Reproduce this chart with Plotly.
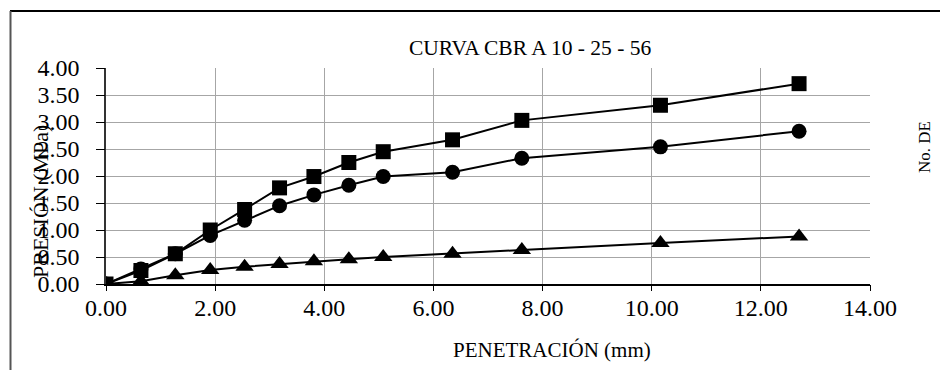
import plotly.graph_objects as go

penetracion = [0.00, 0.64, 1.27, 1.91, 2.54, 3.18, 3.81, 4.45, 5.08, 6.35, 7.62, 10.16, 12.70]
presion_56 = [0.00, 0.25, 0.56, 1.00, 1.38, 1.78, 1.99, 2.25, 2.45, 2.67, 3.03, 3.31, 3.71]
presion_25 = [0.00, 0.28, 0.56, 0.90, 1.18, 1.45, 1.65, 1.83, 1.99, 2.07, 2.33, 2.54, 2.83]
presion_10 = [0.00, 0.05, 0.16, 0.26, 0.32, 0.37, 0.42, 0.46, 0.50, 0.56, 0.63, 0.76, 0.88]

x_ticks = [0, 2, 4, 6, 8, 10, 12, 14]
y_ticks = [0, 0.5, 1, 1.5, 2, 2.5, 3, 3.5, 4]

W, H = 940, 370
L, R, T, B = 106, 70, 68, 86
PW, PH = W - L - R, H - T - B

def px(xp):
    return (xp - L) / PW

def py(yp):
    return (H - B - yp) / PH

FONT = "Liberation Serif, Times New Roman, serif"
PAD = "<span style='color:rgba(0,0,0,0)'>0</span>"

fig = go.Figure()
series = [(presion_56, "square", 15), (presion_25, "circle", 15), (presion_10, "triangle-up", 16)]
for vals, sym, sz in series:
    fig.add_trace(go.Scatter(
        x=penetracion, y=vals, mode="lines+markers",
        line=dict(color="black", width=2),
        marker=dict(symbol=sym, size=sz, color="black"),
        showlegend=False,
    ))
# invisible helper trace so the overlay axes (visible tick marks) are drawn
fig.add_trace(go.Scatter(x=[penetracion[0]], y=[presion_10[0]], xaxis="x2", yaxis="y2",
                         mode="markers", marker=dict(opacity=0), hoverinfo="skip", showlegend=False))

tick_common = dict(showgrid=False, zeroline=False, showline=False, showticklabels=False,
                   ticks="outside", tickcolor="black", tickwidth=1)

fig.update_layout(
    xaxis=dict(
        range=[0, 14], tickvals=x_ticks, ticktext=[f"{v:.2f}" for v in x_ticks],
        showgrid=True, gridcolor="#a6a6a6", gridwidth=1,
        showline=True, linecolor="black", linewidth=1.5,
        ticks="outside", ticklen=1, tickcolor="rgba(0,0,0,0)",
        tickfont=dict(family=FONT, size=24, color="black"),
        zeroline=False,
    ),
    yaxis=dict(
        range=[0, 4], tickvals=y_ticks, ticktext=[f"{v:.2f}{PAD}" for v in y_ticks],
        showgrid=True, gridcolor="#a6a6a6", gridwidth=1,
        showline=True, linecolor="#333333", linewidth=1.5,
        ticks="outside", ticklen=8, tickcolor="black",
        tickfont=dict(family=FONT, size=24, color="black"),
        zeroline=False,
    ),
    xaxis2=dict(range=[0, 14], tickvals=x_ticks, overlaying="x", anchor="y2", side="bottom",
                ticklen=6, **tick_common),
    yaxis2=dict(range=[0, 4], tickvals=y_ticks, overlaying="y", anchor="x2", side="left",
                ticklen=8, **tick_common),
)

annotations = [
    dict(text="CURVA CBR A 10 - 25 - 56", x=px(530), y=py(48), xref="paper", yref="paper",
         showarrow=False, font=dict(family=FONT, size=21.5, color="black"), xanchor="center", yanchor="middle"),
    dict(text="PENETRACIÓN (mm)", x=px(552), y=py(350), xref="paper", yref="paper",
         showarrow=False, font=dict(family=FONT, size=21, color="black"), xanchor="center", yanchor="middle"),
    dict(text="PRESIÓN (MPa)", x=px(40), y=py(202), xref="paper", yref="paper", textangle=-90,
         showarrow=False, font=dict(family=FONT, size=22, color="black"), xanchor="center", yanchor="middle"),
    dict(text="No. DE", x=px(924), y=py(147), xref="paper", yref="paper", textangle=-90,
         showarrow=False, font=dict(family=FONT, size=17, color="black"), xanchor="center", yanchor="middle"),
]

shapes = [
    dict(type="line", xref="paper", yref="paper", x0=px(10), x1=px(940), y0=py(11), y1=py(11),
         line=dict(color="black", width=2)),
    dict(type="line", xref="paper", yref="paper", x0=px(10.5), x1=px(10.5), y0=py(11), y1=py(370),
         line=dict(color="#555555", width=2)),
]

fig.update_layout(
    width=W, height=H,
    margin=dict(l=L, r=R, t=T, b=B),
    paper_bgcolor="white", plot_bgcolor="white",
    annotations=annotations, shapes=shapes,
    font=dict(family=FONT, color="black"),
)

fig.write_html("out.html")
